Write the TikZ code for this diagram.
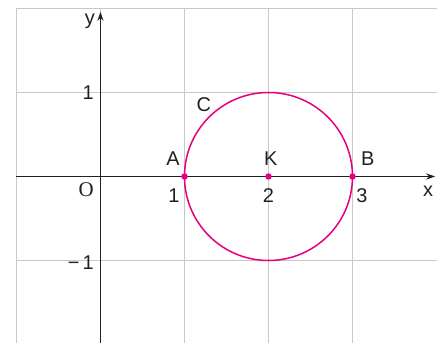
\documentclass[tikz,border=0pt]{standalone}
\usepackage{fontspec}
\setmainfont{Liberation Sans}
\newfontfamily\serifO{Liberation Serif}
\usetikzlibrary{arrows.meta}
\definecolor{gridgray}{HTML}{C8C8C8}
\definecolor{circmag}{HTML}{E6007E}
\definecolor{txt}{HTML}{231F20}
\begin{document}
\begin{tikzpicture}[x=84bp,y=84bp,
  gridline/.style={gridgray,line width=1bp},
  axisline/.style={txt,line width=1.2bp,-{Stealth[length=9bp,width=6bp]}},
  lbl/.style={font=\fontsize{20}{20}\selectfont,text=txt,inner sep=0pt},
  ptdot/.style={circle,fill=circmag,inner sep=0pt,minimum size=6.5bp}]
\useasboundingbox (-1.196,-1.982) rectangle (4.006,2.101);
\begin{scope}
\clip (-1.196,-1.982) rectangle (4.006,2.101);
\foreach \i in {-1,0,1,2,3}{\draw[gridline] (\i,2) -- (\i,-2.1);}
\foreach \j in {2,1,-1}{\draw[gridline] (-1,\j) -- (4.1,\j);}
\end{scope}
\coordinate (xs) at (-1,0);
\coordinate (xe) at (3.985,0);
\coordinate (ys) at (0,-1.982);
\coordinate (ye) at (0,1.96);
\draw[axisline] (xs) -- (xe);
\draw[axisline] (ys) -- (ye);
\coordinate (K) at (2,0);
\draw[circmag,line width=1.5bp] (K) circle[radius=1];
\node[ptdot] (A) at (1,0) {};
\node[ptdot] (Kd) at (K) {};
\node[ptdot] (B) at (3,0) {};
\node[lbl,anchor=base east] (ly) at (-0.065,1.804) {y};
\node[lbl,anchor=base] (lx) at (3.899,-0.244) {x};
\node[lbl,anchor=base,font=\fontsize{21}{21}\serifO] (lO) at (-0.17,-0.244) {O};
\node[lbl,anchor=base east] (l1y) at (-0.077,0.911) {1};
\node[lbl,anchor=base east] (lm1) at (-0.077,-1.105) {−\,1};
\node[lbl,anchor=base] (l1) at (0.875,-0.31) {1};
\node[lbl,anchor=base] (l2) at (2.0,-0.31) {2};
\node[lbl,anchor=base] (l3) at (3.113,-0.31) {3};
\node[lbl,anchor=base] (lA) at (0.863,0.125) {A};
\node[lbl,anchor=base] (lK) at (2.027,0.13) {K};
\node[lbl,anchor=base] (lB) at (3.182,0.13) {B};
\node[lbl,anchor=base] (lC) at (1.229,0.771) {C};
\end{tikzpicture}
\end{document}
